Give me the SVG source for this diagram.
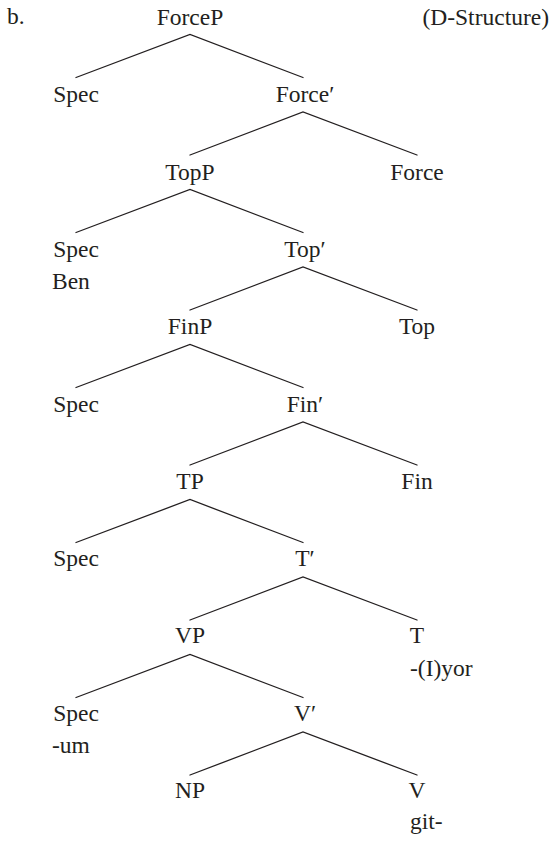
<svg xmlns="http://www.w3.org/2000/svg" width="554" height="841" viewBox="0 0 554 841">
  <style>
    text { font-family: "Liberation Serif", "DejaVu Serif", serif; font-size: 23.5px; fill: #231f20; }
    .c { text-anchor: middle; }
    .e { text-anchor: end; }
    .edge { stroke: #231f20; stroke-width: 1.3; fill: none; stroke-linecap: round; }
  </style>
  <rect width="554" height="841" fill="#ffffff"/>

  <g id="labels">
    <text x="7" y="24">b.</text>
    <text class="e" x="549" y="25">(D-Structure)</text>
  </g>

  <!-- tree edges: each phrase splits into a left and a right daughter -->
  <g id="connectors">
    <path class="edge" d="M76,77.5 L190,34.5 L303,77.5"/>
    <path class="edge" d="M190,155 L303,112 L417,155"/>
    <path class="edge" d="M76,232.5 L190,189.5 L303,232.5"/>
    <path class="edge" d="M190,310 L303,267 L417,310"/>
    <path class="edge" d="M76,387.5 L190,344.5 L303,387.5"/>
    <path class="edge" d="M190,465 L303,422 L417,465"/>
    <path class="edge" d="M76,542.5 L190,499.5 L303,542.5"/>
    <path class="edge" d="M190,620 L303,577 L417,620"/>
    <path class="edge" d="M76,697.5 L190,654.5 L303,697.5"/>
    <path class="edge" d="M190,775 L303,732 L417,775"/>
  </g>

  <g id="forceP"><text class="c" x="190" y="25">ForceP</text></g>
  <g id="spec-force"><text class="c" x="76" y="102.3">Spec</text></g>
  <g id="force-bar"><text class="c" x="305" y="102.3">Force′</text></g>
  <g id="topP"><text class="c" x="190" y="179.6">TopP</text></g>
  <g id="force"><text class="c" x="417" y="179.6">Force</text></g>
  <g id="spec-top"><text class="c" x="76" y="256.9">Spec</text><text x="52" y="289">Ben</text></g>
  <g id="top-bar"><text class="c" x="305" y="256.9">Top′</text></g>
  <g id="finP"><text class="c" x="190" y="334.2">FinP</text></g>
  <g id="top"><text class="c" x="417" y="334.2">Top</text></g>
  <g id="spec-fin"><text class="c" x="76" y="411.5">Spec</text></g>
  <g id="fin-bar"><text class="c" x="305" y="411.5">Fin′</text></g>
  <g id="tP"><text class="c" x="190" y="488.8">TP</text></g>
  <g id="fin"><text class="c" x="417" y="488.8">Fin</text></g>
  <g id="spec-t"><text class="c" x="76" y="566.1">Spec</text></g>
  <g id="t-bar"><text class="c" x="305" y="566.1">T′</text></g>
  <g id="vP"><text class="c" x="190" y="643.4">VP</text></g>
  <g id="t"><text class="c" x="417" y="643.4">T</text><text x="410" y="676">-(I)yor</text></g>
  <g id="spec-v"><text class="c" x="76" y="720.7">Spec</text><text x="52" y="753">-um</text></g>
  <g id="v-bar"><text class="c" x="305" y="720.7">V′</text></g>
  <g id="nP"><text class="c" x="190" y="798">NP</text></g>
  <g id="v"><text class="c" x="417" y="798">V</text><text x="410" y="829">git-</text></g>
</svg>
